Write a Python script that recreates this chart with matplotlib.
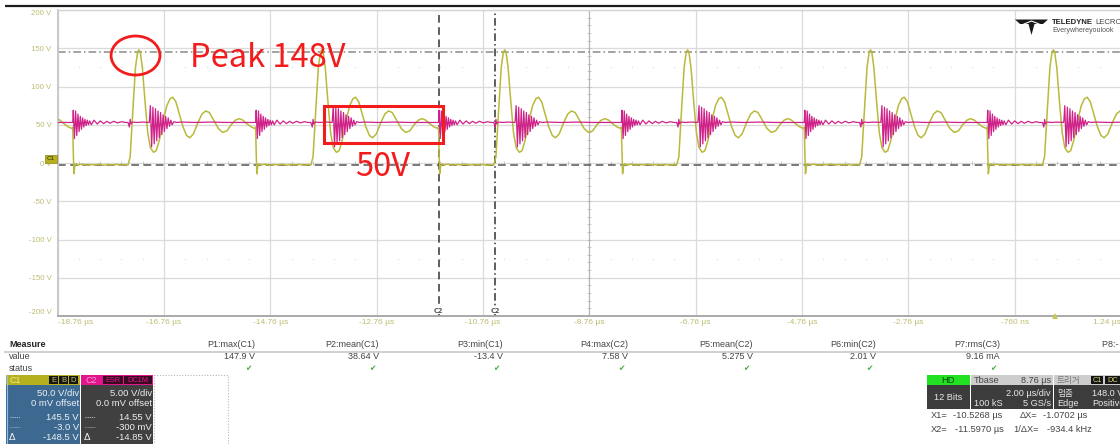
import matplotlib
matplotlib.use("Agg")
import numpy as np
import matplotlib.pyplot as plt
from matplotlib.patches import Ellipse, Rectangle, Polygon

# ---------------- data ----------------
# start (falling edge) of each switching cycle, in microseconds
cycle_starts_us = [-21.917, -18.477, -15.037, -11.597, -8.157, -4.717, -1.277]

# C1 (yellow, 50 V/div) one cycle, time relative to cycle start [us], volts
c1_t_rel = [0.000, 0.010, 0.022, 0.040, 0.065, 0.10, 0.18, 0.26, 0.34, 0.42, 0.50, 0.58,
            0.66, 0.74, 0.82, 0.90, 0.98, 1.04, 1.08, 1.13, 1.18, 1.22, 1.245, 1.27, 1.31,
            1.36, 1.41, 1.46, 1.52, 1.57, 1.63, 1.70, 1.77, 1.83, 1.88, 1.94, 2.00, 2.07,
            2.14, 2.20, 2.27, 2.35, 2.43, 2.50, 2.57, 2.65, 2.74, 2.82, 2.90, 2.98, 3.06,
            3.13, 3.20, 3.28, 3.36, 3.43]
c1_v = [47, 15, -14, -4, -1, -2.5, -1.5, -3, -2, -2.5, -1.5, -3,
        -2, -2.5, -1.8, -3, -2, -2.5, 8, 68, 125, 145, 147.9, 145, 124,
        80, 40, 20, 14, 16, 30, 55, 75, 84, 86, 80, 65, 48,
        36, 33, 38, 52, 64, 68, 66, 56, 45, 40, 42, 50, 56,
        58, 56, 51, 47, 45]

# C2 (magenta, 5 V/div) one cycle, time relative to cycle start [us], volts
c2_t_rel = [0.000, 0.010, 0.032, 0.054, 0.076, 0.098, 0.120, 0.142, 0.164, 0.186, 0.208,
            0.230, 0.252, 0.274, 0.296, 0.320, 0.350, 0.40, 0.46, 0.52, 0.58, 0.64, 0.70,
            0.77, 0.84, 0.92, 0.98, 1.04, 1.065, 1.08, 1.095, 1.12, 1.20, 1.32, 1.44,
            1.460, 1.484, 1.508, 1.532, 1.556, 1.580, 1.604, 1.628, 1.652, 1.676, 1.700,
            1.724, 1.748, 1.772, 1.796, 1.820, 1.845, 1.870, 1.900, 1.950, 2.05, 2.3, 2.6,
            2.9, 3.2, 3.42]
c2_v = [5.3, 6.9, 3.2, 6.8, 3.6, 6.4, 4.1, 6.1, 4.4, 5.9, 4.7,
        5.7, 4.9, 5.6, 5.0, 5.5, 5.0, 5.6, 5.1, 5.5, 5.15, 5.45, 5.2,
        5.45, 5.25, 5.4, 5.3, 5.3, 4.7, 5.7, 5.1, 5.35, 5.3, 5.35, 5.3,
        7.5, 2.1, 7.3, 2.5, 7.1, 2.9, 6.8, 3.3, 6.6, 3.7, 6.3,
        4.1, 6.1, 4.5, 5.9, 4.8, 5.6, 5.0, 5.4, 5.3, 5.35, 5.3, 5.35,
        5.3, 5.3, 5.3]

x_ticks_us = [-18.76, -16.76, -14.76, -12.76, -10.76, -8.76, -6.76, -4.76, -2.76, -0.76, 1.24]
x_tick_labels = ["-18.76 µs", "-16.76 µs", "-14.76 µs", "-12.76 µs", "-10.76 µs", "-8.76 µs",
                 "-6.76 µs", "-4.76 µs", "-2.76 µs", "-760 ns", "1.24 µs"]
y_ticks_v = [-200, -150, -100, -50, 0, 50, 100, 150, 200]
y_tick_labels = ["-200 V", "-150 V", "-100 V", "-50 V", "0 V", "50 V", "100 V", "150 V", "200 V"]

cursor_h1_v = 145.5
cursor_h2_v = -3.0
cursor_x1_us = -10.5268
cursor_x2_us = -11.5970

meas_names = ["P1:max(C1)", "P2:mean(C1)", "P3:min(C1)", "P4:max(C2)", "P5:mean(C2)",
              "P6:min(C2)", "P7:rms(C3)", "P8:- -"]
meas_values = ["147.9 V", "38.64 V", "-13.4 V", "7.58 V", "5.275 V", "2.01 V", "9.16 mA", ""]
meas_ok = [True, True, True, True, True, True, True, False]

c1_box_rows = ["50.0 V/div", "0 mV offset", "145.5 V", "-3.0 V", "-148.5 V"]
c2_box_rows = ["5.00 V/div", "0.0 mV offset", "14.55 V", "-300 mV", "-14.85 V"]

peak_label = "Peak 148V"
level_label = "50V"

# ---------------- build the traces ----------------
c1_t = np.concatenate([np.array(c1_t_rel) + s for s in cycle_starts_us])
c1_y = np.concatenate([np.array(c1_v, dtype=float) for s in cycle_starts_us])
c2_t = np.concatenate([np.array(c2_t_rel) + s for s in cycle_starts_us])
c2_y = np.concatenate([np.array(c2_v, dtype=float) for s in cycle_starts_us])

W, H = 1120, 444
fig = plt.figure(figsize=(W / 100, H / 100), dpi=100)
fig.patch.set_facecolor("white")

ax_l, ax_r, ax_t, ax_b = 57.7, 1121.0, 10.0, 316.0
ax = fig.add_axes([ax_l / W, (H - ax_b) / H, (ax_r - ax_l) / W, (ax_b - ax_t) / H])
ax.set_xlim(-18.76, 1.24)
ax.set_ylim(-200, 200)
ax.set_facecolor("white")

tick_col = "#bdbd72"
ax.set_xticks(x_ticks_us)
ax.set_xticklabels(x_tick_labels, fontsize=6, color=tick_col, family="Liberation Sans")
ax.set_yticks(y_ticks_v)
ax.set_yticklabels(y_tick_labels, fontsize=5.6, color=tick_col, family="Liberation Sans")
ax.tick_params(axis="both", length=0)
ax.tick_params(axis="x", pad=2.5)
ax.tick_params(axis="y", pad=4.5)
xl = ax.get_xticklabels()
xl[0].set_ha("left")
xl[-1].set_ha("right")
yl = ax.get_yticklabels()
yl[0].set_va("bottom")
yl[-1].set_va("top")

ax.grid(True, color="#dadada", lw=0.9)
ax.set_axisbelow(True)
ax.spines["right"].set_visible(False)
ax.spines["left"].set_color("#c9c9c9")
ax.spines["left"].set_linewidth(1.4)
ax.spines["bottom"].set_color("#a9a9a9")
ax.spines["bottom"].set_linewidth(1.4)
ax.spines["top"].set_color("#d4d4d4")
ax.spines["top"].set_linewidth(1.0)

# faint dotted rows and centre axes with minor ticks
dot_x = [-18.76 + 0.4 * k for k in range(1, 50) if k % 5 != 0]
for yy in (125, -125):
    ax.plot(dot_x, [yy] * len(dot_x), ls="none", marker="+", ms=2.0, mew=0.4, color="#e4e4e4", zorder=1)
ax.axvline(-8.76, color="#b4b4b4", lw=0.8, zorder=1)
ax.plot([-8.76] * 39, list(range(-190, 200, 10)), ls="none", marker="_", ms=3, mew=0.5,
        color="#b4b4b4", zorder=1)
ax.plot(dot_x, [0] * len(dot_x), ls="none", marker="|", ms=3, mew=0.5, color="#b4b4b4", zorder=1)

# cursors
ax.axhline(cursor_h1_v, color="#8a8a8a", lw=1.1, dashes=(5, 2, 1, 2), zorder=2)
ax.axhline(cursor_h2_v, color="#555555", lw=1.1, dashes=(5, 3), zorder=2)
ax.axvline(cursor_x2_us, color="#333333", lw=1.1, dashes=(5, 3), zorder=2)
ax.axvline(cursor_x1_us, color="#333333", lw=1.1, dashes=(5, 2, 1, 2), zorder=2)
for cx in (cursor_x2_us, cursor_x1_us):
    ax.text(cx, -197, "C2", fontsize=4.8, color="#555555", ha="center", va="bottom",
            family="DejaVu Sans", fontweight="bold", zorder=3,
            bbox=dict(fc="white", ec="none", pad=0.3))

# C1 trace
ax.plot(c1_t, c1_y, color="#b9b93c", lw=1.1, zorder=4)

# C2 trace on its own 5 V/div scale
ax2 = ax.twinx()
ax2.set_ylim(-20, 20)
ax2.set_xlim(-18.76, 1.24)
ax2.axis("off")
ax2.plot(c2_t, c2_y, color="#cf2289", lw=0.9, zorder=5)

# red annotations (in C1 data coordinates)
red = "#f21c1c"
ax2.add_patch(Ellipse((-17.296, 140.5), 0.92, 51, transform=ax.transData, fill=False,
                      ec=red, lw=2.0, zorder=10, clip_on=False))
ax2.add_patch(Rectangle((-13.75, 26.1), 2.24, 48.4, transform=ax.transData, fill=False,
                        ec=red, lw=2.2, zorder=10, clip_on=False))
ax2.text(-16.27, 125.5, peak_label, transform=ax.transData, color=red, fontsize=23.5,
         family=["Noto Sans CJK KR", "DejaVu Sans"], ha="left", va="baseline", zorder=11)
ax2.text(-13.16, -17, level_label, transform=ax.transData, color=red, fontsize=23.5,
         family=["Noto Sans CJK KR", "DejaVu Sans"], ha="left", va="baseline", zorder=11)

# trigger marker at t = 0
ax.plot([0], [-200], marker="^", ms=4, mew=0, color="#c8c850", clip_on=False, zorder=6)

# ---------------- overlay in pixel coordinates ----------------
ov = fig.add_axes([0, 0, 1, 1], zorder=20)
ov.set_xlim(0, W)
ov.set_ylim(H, 0)
ov.axis("off")
ov.patch.set_alpha(0)

ff = "Liberation Sans"


def box(x0, y0, x1, y1, fc, ec="none", **kw):
    ov.add_patch(Rectangle((x0, y0), x1 - x0, y1 - y0, fc=fc, ec=ec, **kw))


def txt(x, y, s, size=6.6, color="#333333", ha="left", weight="normal", family=ff):
    ov.text(x, y, s, fontsize=size, color=color, ha=ha, va="center", fontweight=weight,
            family=family)


# top dark frame line
ov.plot([5, W], [6, 6], color="#1c1c1c", lw=1.6, solid_capstyle="butt")

# C1 offset marker
box(45, 154.5, 57, 163, "#b6b020", ec="#8a8410", lw=0.5)
txt(51, 158.8, "C1", size=4.5, color="#333300", ha="center")

# Teledyne LeCroy logo
ov.add_patch(Polygon([(1015, 19.5), (1048, 19.5), (1043, 24), (1034.5, 24), (1031.5, 35),
                      (1028.5, 24), (1020, 24)], closed=True, fc="#1a1a1a", ec="none"))
ov.plot([1024, 1031.5, 1039], [24, 21, 24], color="white", lw=0.8)
txt(1052, 22, "TELEDYNE", size=5.6, color="#222222", weight="bold")
txt(1095, 22, "LECROY", size=5.6, color="#444444")
txt(1052, 30, "Everywhereyoulook", size=5.0, color="#555555")

# measure table
txt(9, 344.5, "Measure", size=6.5, color="#222222", weight="bold")
ov.plot([5, W], [351.5, 351.5], color="#d0d0d0", lw=1.4)
txt(9, 356.5, "value", size=6.5, color="#444444")
txt(9, 368.5, "status", size=6.5, color="#444444")
col_right = [255, 379, 503, 628, 753, 876, 1000, 1124]
for xr, nm, vv, ok in zip(col_right, meas_names, meas_values, meas_ok):
    txt(xr, 344.5, nm, size=6.5, color="#444444", ha="right")
    if vv:
        txt(xr, 356.5, vv, size=6.5, color="#444444", ha="right")
    if ok:
        txt(xr - 4, 368.5, "\u2714", size=5.5, color="#40b040", ha="right", family="DejaVu Sans")

# C1 channel box
box(6, 375, 80, 385, "#b5b01e")
box(6, 385, 80, 444, "#3d6890")
ov.plot([6.5, 6.5], [375, 444], color="#8fc0e8", lw=0.8)
txt(10, 380, "C1", size=6.5, color="#ecec90")
for i, ch in enumerate("EBD"):
    box(49 + i * 10, 376, 58 + i * 10, 384, "#151515")
    txt(53.5 + i * 10, 380, ch, size=5.5, color="#c8c860", ha="center")
# C2 channel box
box(81, 375, 153, 385, "#e0168c")
box(81, 385, 153, 444, "#404040")
txt(85, 380, "C2", size=6.5, color="#ff9ad4")
box(103, 376, 123, 384, "#3a0a22")
txt(113, 380, "ESR", size=5.3, color="#e0168c", ha="center")
box(124, 376, 152, 384, "#3a0a22")
txt(138, 380, "DC1M", size=5.3, color="#e0168c", ha="center")
row_y = [393, 403.5, 417, 427, 437.5]
for i in range(5):
    txt(79, row_y[i], c1_box_rows[i], size=6.8, color="#eef2f6", ha="right")
    txt(152, row_y[i], c2_box_rows[i], size=6.8, color="#eeeeee", ha="right")
for xb in (10, 85):
    ov.plot([xb, xb + 10], [417, 417], color="#c0c8d0", lw=0.6, dashes=(1.5, 1))
    ov.plot([xb, xb + 10], [427, 427], color="#c0c8d0", lw=0.6, dashes=(0.6, 0.8))
    txt(xb - 1, 437.5, "Δ", size=6.8, color="#eeeeee", family="DejaVu Sans")
# dotted empty box
ov.add_patch(Rectangle((153.5, 375), 74.5, 72, fill=False, ec="#b8b8b8", lw=0.8, ls=(0, (1, 1.5))))

# HD / timebase / trigger box
box(927, 375, 970, 385, "#22e022")
txt(948.5, 380, "HD", size=6.8, color="#0a4a0a", ha="center")
box(927, 385, 970, 409, "#3c3c3c")
txt(948.5, 397.5, "12 Bits", size=6.6, color="#e8e8e8", ha="center")
box(971, 375, 1053, 385, "#cdcdcd")
txt(974, 380, "Tbase", size=6.6, color="#444444")
txt(1051, 380, "8.76 µs", size=6.6, color="#444444", ha="right")
box(971, 385, 1053, 409, "#3c3c3c")
txt(1051, 393, "2.00 µs/div", size=6.6, color="#e8e8e8", ha="right")
txt(974, 403.5, "100 kS", size=6.6, color="#e8e8e8")
txt(1051, 403.5, "5 GS/s", size=6.6, color="#e8e8e8", ha="right")
box(1054, 375, W, 385, "#cdcdcd")
txt(1057, 380, "트리거", size=6.2, color="#7a7a7a", family=["Noto Sans CJK KR", "DejaVu Sans"])
box(1091, 376, 1103, 384, "#151515")
txt(1097, 380, "C1", size=5.3, color="#d8d870", ha="center")
box(1105, 376, 1120, 384, "#151515")
txt(1107, 380, "DC", size=5.3, color="#d8d870")
box(1054, 385, W, 409, "#3c3c3c")
txt(1057, 393, "멈춤", size=6.2, color="#e0e0e0", family=["Noto Sans CJK KR", "DejaVu Sans"])
txt(1092, 393, "148.0 V", size=6.6, color="#e8e8e8")
txt(1057, 403.5, "Edge", size=6.6, color="#e8e8e8")
txt(1092, 403.5, "Positive", size=6.6, color="#e8e8e8")

# cursor readouts
rs = 6.7
rc = "#444444"
txt(931, 415.5, "X1=", size=rs, color=rc)
txt(953, 415.5, "-10.5268 µs", size=rs, color=rc)
txt(1020, 415.5, "ΔX=", size=rs, color=rc)
txt(1043, 415.5, "-1.0702 µs", size=rs, color=rc)
txt(931, 429.5, "X2=", size=rs, color=rc)
txt(955, 429.5, "-11.5970 µs", size=rs, color=rc)
txt(1013, 429.5, "1/ΔX=", size=rs, color=rc)
txt(1047, 429.5, "-934.4 kHz", size=rs, color=rc)

fig.savefig("out.png", dpi=100, facecolor="white")
